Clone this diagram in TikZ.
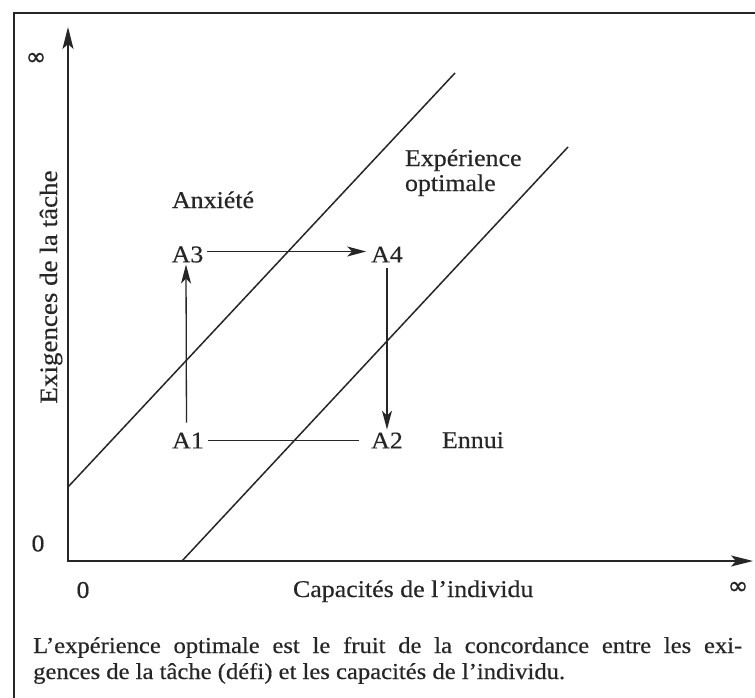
\documentclass[tikz,border=0pt]{standalone}
\usepackage{fontspec}
\setmainfont{Liberation Serif}[FakeStretch=1.08,FakeBold=0.4]
\newfontfamily\inffont{DejaVu Sans}[FakeBold=0.6]
\usetikzlibrary{arrows.meta}
\begin{document}
\begin{tikzpicture}[x=1pt,y=-1pt,
  lab/.style={font=\fontsize{24}{25}\selectfont, text=black!85, inner sep=2pt, outer sep=0pt},
  plain/.style={font=\fontsize{24}{25}\selectfont, text=black!85, inner sep=0pt, outer sep=0pt},
  inf/.style={font=\inffont\fontsize{25}{25}\selectfont, text=black!85, inner sep=0pt},
  capt/.style={font=\fontsize{22.8}{26}\selectfont, text=black!85, inner sep=0pt, text width=709pt, align=justify},
  conn/.style={draw=black!85, line width=1.3pt},
  arr/.style={conn, -{Stealth[length=19pt,width=10pt,inset=5pt]}},
  axis/.style={draw=black!85, line width=1.7pt, {Stealth[length=22pt,width=11pt,inset=5pt]}-{Stealth[length=22pt,width=11pt,inset=5pt]}},
  diag/.style={draw=black!85, line width=1.5pt},
  frame/.style={draw=black!85, line width=2pt}]
\useasboundingbox (0,0) rectangle (755,698);
\fill[white] (0,0) rectangle (755,698);
% frame
\coordinate (fb) at (14,698);
\coordinate (ftl) at (14,13);
\coordinate (fr) at (755,13);
\draw[frame] (fb) -- (ftl) -- (fr);
% axes
\coordinate (O) at (68,561);
\coordinate (Ytop) at (68,27);
\coordinate (Xend) at (753,561);
\draw[axis] (Ytop) -- (O) -- (Xend);
% diagonals
\coordinate (u1) at (68,487);
\coordinate (u2) at (455,73);
\coordinate (l1) at (182,561);
\coordinate (l2) at (568,147);
\draw[diag] (u1) -- (u2);
\draw[diag] (l1) -- (l2);
% states
\node[lab] (A1) at (188,440.5) {A1};
\node[lab] (A2) at (387,440.5) {A2};
\node[lab] (A3) at (187.5,254.5) {A3};
\node[lab] (A4) at (387,254.5) {A4};
\draw[arr, shorten <=8pt, shorten >=0pt] ([xshift=-1.5pt]A1.north) -- ([xshift=-1.5pt]A3.south);
\draw[arr, shorten <=2pt, shorten >=3pt] ([yshift=3pt]A3.east) -- ([yshift=3pt]A4.west);
\draw[arr, shorten <=4pt, shorten >=1pt] (A4.south) -- (A2.north);
\draw[conn, shorten <=2pt, shorten >=10pt] (A1.east) -- (A2.west);
% zone labels
\node[plain, anchor=base west] (anx) at (172,208) {Anxiété};
\node[plain, anchor=base west] (opt) at (405,166) {\vtop{\hbox{Expérience}\hbox{optimale}}};
\node[plain, anchor=base west] (ennui) at (442,448) {Ennui};
% axis labels
\node[plain, font=\fontsize{25}{25}\selectfont, rotate=90, anchor=base] (ylab) at (57,287) {Exigences de la tâche};
\node[inf] (yinf) at (36,59) {∞};
\node[plain] (y0) at (38,543.5) {0};
\node[plain] (x0) at (83,590) {0};
\node[plain, anchor=base west] (xlab) at (293,597) {Capacités de l’individu};
\node[inf] (xinf) at (738,588) {∞};
% caption
\node[capt, anchor=base west] (cap) at (33,653) {L’expérience optimale est le fruit de la concordance entre les exi-\linebreak gences de la tâche (défi) et les capacités de l’individu.};
\end{tikzpicture}
\end{document}
